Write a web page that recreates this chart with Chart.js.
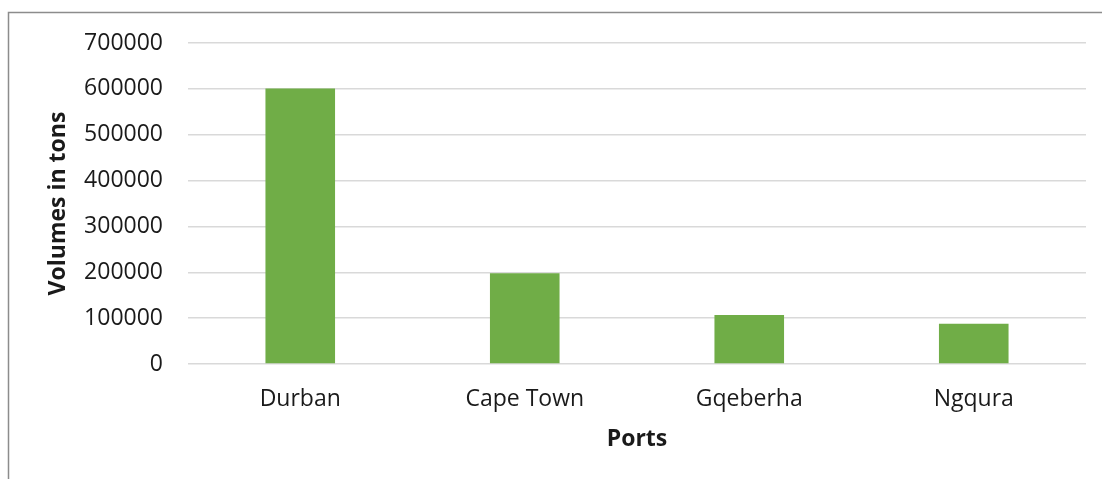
<!DOCTYPE html>
<html>
<head>
<meta charset="utf-8">
<script src="https://cdn.jsdelivr.net/npm/chart.js@4"></script>
<style>
  html, body { margin: 0; padding: 0; background: #fff; }
  #wrap { width: 1102px; height: 479px; position: relative; }
</style>
</head>
<body>
<div id="wrap"><canvas id="chart"></canvas></div>
<script>
const ports = ["Durban", "Cape Town", "Gqeberha", "Ngqura"];
const volumes = [601000, 198000, 107000, 88000];
const yTicks = [0, 100000, 200000, 300000, 400000, 500000, 600000, 700000];

// grey frame on the top and left edge, like the exported picture
const frame = {
  id: "frame",
  afterDraw: function (chart) {
    var ctx = chart.ctx;
    ctx.save();
    ctx.strokeStyle = "#8c8c8c";
    ctx.lineWidth = 1.5;
    ctx.beginPath();
    ctx.moveTo(8.5, 479);
    ctx.lineTo(8.5, 12.5);
    ctx.lineTo(1102, 12.5);
    ctx.stroke();
    ctx.restore();
  }
};

Chart.defaults.font.family = "'Open Sans', sans-serif";
Chart.defaults.color = "#1a1a1a";

var ctx = document.getElementById("chart").getContext("2d");
var myChart = new Chart(ctx, {
  type: "bar",
  data: {
    labels: ports,
    datasets: [
      {
        label: "Volumes",
        data: volumes,
        backgroundColor: "#70ad47",
        borderWidth: 0,
        barPercentage: 0.31,
        categoryPercentage: 1,
      },
    ],
  },
  plugins: [frame],
  options: {
    responsive: true,
    maintainAspectRatio: false,
    animation: false,
    layout: { padding: { top: 43, right: 16, bottom: 0, left: 0 } },
    plugins: {
      legend: { display: false },
      tooltip: { enabled: false },
    },
    scales: {
      x: {
        grid: { display: false, drawTicks: false },
        border: { display: false },
        ticks: { padding: 22, font: { size: 23 }, color: "#1a1a1a" },
        title: {
          display: true,
          text: "Ports",
          font: { size: 23, weight: "bold" },
          color: "#1a1a1a",
          padding: { top: 0, bottom: 26 },
        },
        afterFit: function (scale) { scale.height = 115; },
      },
      y: {
        min: 0,
        max: 700000,
        afterBuildTicks: function (scale) {
          scale.ticks = yTicks.map(function (v) { return { value: v }; });
        },
        grid: { color: "#d9d9d9", lineWidth: 1.5, drawTicks: false },
        border: { display: false },
        ticks: {
          padding: 25,
          font: { size: 23 },
          color: "#1a1a1a",
          callback: function (value) { return String(value); },
        },
        title: {
          display: true,
          text: "Volumes in tons",
          font: { size: 23, weight: "bold" },
          color: "#1a1a1a",
          padding: { top: 45, bottom: 0 },
        },
        afterFit: function (scale) {
          scale.width = 188;
          scale.paddingTop = 0;
          scale.paddingBottom = 0;
        },
      },
    },
  },
});
</script>
</body>
</html>
